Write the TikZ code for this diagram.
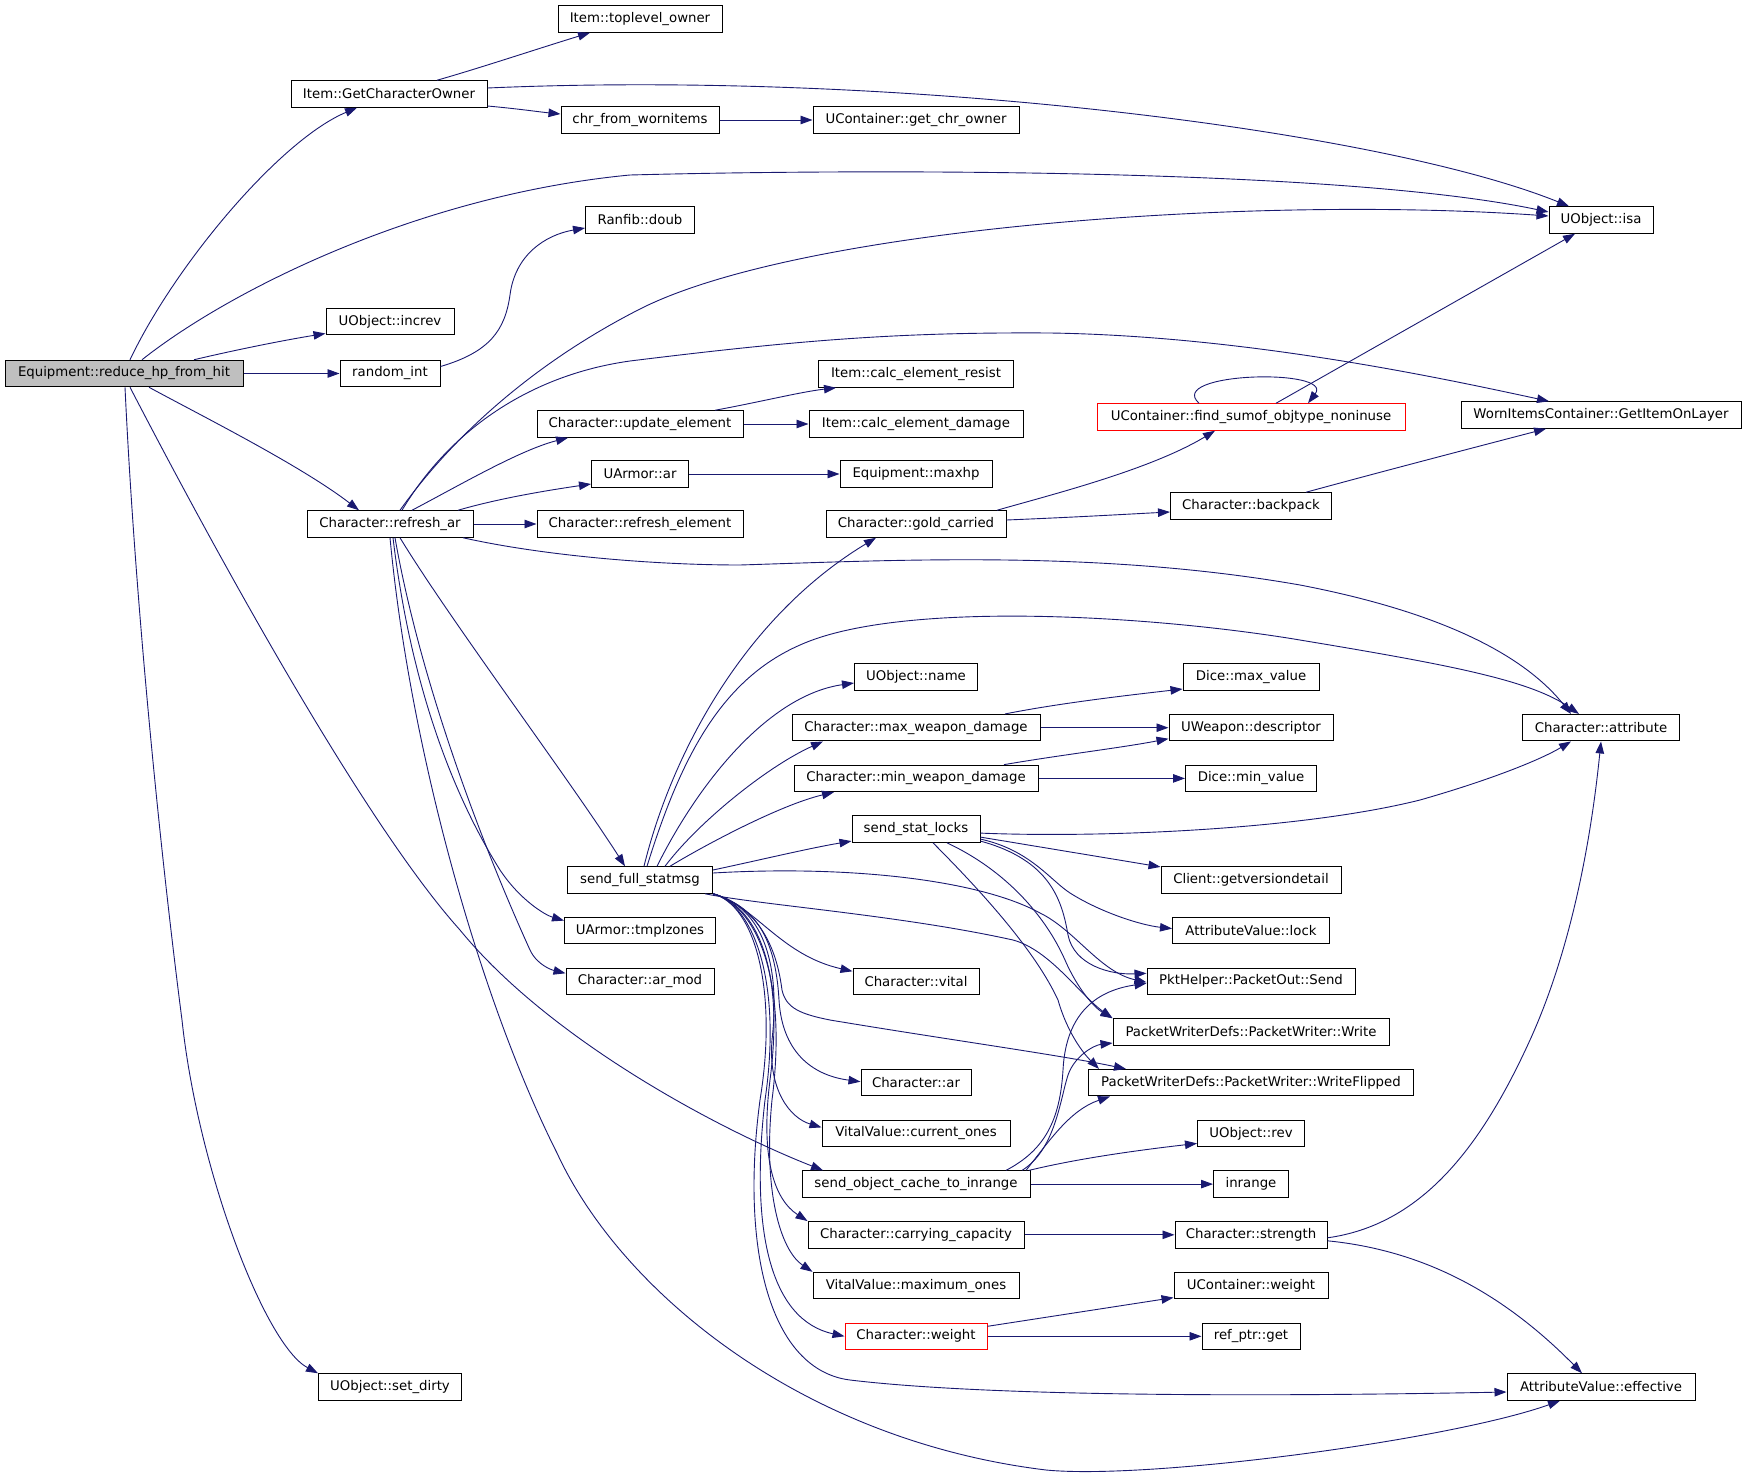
\documentclass[tikz,border=0pt]{standalone}
\usepackage{fontspec}
\setmainfont{DejaVu Sans}
\usetikzlibrary{arrows.meta}
\definecolor{callblue}{HTML}{191970}
\definecolor{rootgray}{HTML}{BFBFBF}
\tikzset{
  fn/.style={draw=black, line width=1pt, fill=white, inner sep=0pt, minimum height=26.5pt,
    font=\fontsize{13.3}{16}\selectfont},
  fnroot/.style={fn, fill=rootgray},
  fnred/.style={fn, draw=red},
  call/.style={draw=callblue, line width=0.9pt, -{Triangle[length=12pt,width=8.5pt]}}
}
\begin{document}
\begin{tikzpicture}[x=1pt,y=-1pt]
	\useasboundingbox (0,0) rectangle (1747,1479);
	% nodi
	\node[fnroot, minimum width=238pt] (root) at (124,373.5) {Equipment::reduce\_hp\_from\_hit};
	\node[fn, minimum width=196pt] (gco) at (389,94) {Item::GetCharacterOwner};
	\node[fn, minimum width=128pt] (increv) at (390,321.5) {UObject::increv};
	\node[fn, minimum width=100pt] (rint) at (390,373.5) {random\_int};
	\node[fn, minimum width=166pt] (rar) at (390,524) {Character::refresh\_ar};
	\node[fn, minimum width=143pt] (dirty) at (390,1387) {UObject::set\_dirty};
	\node[fn, minimum width=164pt] (toplevel) at (640,19) {Item::toplevel\_owner};
	\node[fn, minimum width=158pt] (chr) at (640,120) {chr\_from\_wornitems};
	\node[fn, minimum width=109pt] (doub) at (640,220) {Ranfib::doub};
	\node[fn, minimum width=206pt] (upd) at (640,424) {Character::update\_element};
	\node[fn, minimum width=97pt] (uar) at (640,474) {UArmor::ar};
	\node[fn, minimum width=206pt] (relem) at (640,524) {Character::refresh\_element};
	\node[fn, minimum width=145pt] (sfs) at (640,880) {send\_full\_statmsg};
	\node[fn, minimum width=151pt] (tmpl) at (640,930.6) {UArmor::tmplzones};
	\node[fn, minimum width=148pt] (armod) at (640,981.3) {Character::ar\_mod};
	\node[fn, minimum width=206pt] (gcowner) at (916,120) {UContainer::get\_chr\_owner};
	\node[fn, minimum width=195pt] (resist) at (916,374) {Item::calc\_element\_resist};
	\node[fn, minimum width=214pt] (dmg) at (916,424) {Item::calc\_element\_damage};
	\node[fn, minimum width=152pt] (maxhp) at (916,474) {Equipment::maxhp};
	\node[fn, minimum width=180pt] (gold) at (916,524) {Character::gold\_carried};
	\node[fn, minimum width=123pt] (name) at (916,677) {UObject::name};
	\node[fn, minimum width=248pt] (maxwd) at (916,727.7) {Character::max\_weapon\_damage};
	\node[fn, minimum width=244pt] (minwd) at (916,778.4) {Character::min\_weapon\_damage};
	\node[fn, minimum width=128pt] (ssl) at (916,829.1) {send\_stat\_locks};
	\node[fn, minimum width=126pt] (vital) at (916,981.3) {Character::vital};
	\node[fn, minimum width=110pt] (car) at (916,1082.7) {Character::ar};
	\node[fn, minimum width=188pt] (curr) at (916,1133.4) {VitalValue::current\_ones};
	\node[fn, minimum width=228pt] (soc) at (916,1184.1) {send\_object\_cache\_to\_inrange};
	\node[fn, minimum width=216pt] (carry) at (916,1234.8) {Character::carrying\_capacity};
	\node[fn, minimum width=206pt] (maxo) at (916,1285.6) {VitalValue::maximum\_ones};
	\node[fnred, minimum width=142pt] (cweight) at (916,1336.3) {Character::weight};
	\node[fnred, minimum width=308pt] (fsum) at (1251,417) {UContainer::find\_sumof\_objtype\_noninuse};
	\node[fn, minimum width=161pt] (backpack) at (1251,506) {Character::backpack};
	\node[fn, minimum width=136pt] (maxv) at (1251,677) {Dice::max\_value};
	\node[fn, minimum width=164pt] (desc) at (1251,727.7) {UWeapon::descriptor};
	\node[fn, minimum width=131pt] (minv) at (1251,778.4) {Dice::min\_value};
	\node[fn, minimum width=180pt] (client) at (1251,879.9) {Client::getversiondetail};
	\node[fn, minimum width=157pt] (lock) at (1251,930.6) {AttributeValue::lock};
	\node[fn, minimum width=208pt] (send) at (1251,981.3) {PktHelper::PacketOut::Send};
	\node[fn, minimum width=276pt] (write) at (1251,1032) {PacketWriterDefs::PacketWriter::Write};
	\node[fn, minimum width=325pt] (wflip) at (1251,1082.7) {PacketWriterDefs::PacketWriter::WriteFlipped};
	\node[fn, minimum width=107pt] (rev) at (1251,1133.4) {UObject::rev};
	\node[fn, minimum width=75pt] (inrange) at (1251,1184.1) {inrange};
	\node[fn, minimum width=152pt] (str) at (1251,1234.8) {Character::strength};
	\node[fn, minimum width=154pt] (uweight) at (1251,1285.6) {UContainer::weight};
	\node[fn, minimum width=98pt] (get) at (1251,1336.3) {ref\_ptr::get};
	\node[fn, minimum width=104pt] (isa) at (1601,220) {UObject::isa};
	\node[fn, minimum width=280pt] (layer) at (1601,415) {WornItemsContainer::GetItemOnLayer};
	\node[fn, minimum width=157pt] (attr) at (1601,727.7) {Character::attribute};
	\node[fn, minimum width=188pt] (eff) at (1601,1387) {AttributeValue::effective};
	% chiamate da reduce_hp_from_hit
	\draw[call] ([xshift=6]root.north) .. controls (175,265) and (280,140) .. ([xshift=-32]gco.south);
	\draw[call] ([xshift=18]root.north) .. controls (230,290) and (420,195) .. (630,175) .. controls (900,168) and (1350,170) .. ([yshift=8]isa.west);
	\draw[call] ([xshift=70]root.north) .. controls (235,350) and (285,340) .. ([yshift=-12]increv.west);
	\draw[call] (root.east) -- (rint.west);
	\draw[call] ([xshift=25]root.south) .. controls (200,415) and (300,465) .. ([xshift=-31]rar.north);
	\draw[call] ([xshift=6]root.south) .. controls (230,580) and (370,830) .. (460,930) .. controls (550,1040) and (720,1130) .. ([xshift=-93]soc.north);
	\draw[call] ([xshift=1]root.south) .. controls (135,600) and (160,850) .. (182,1020) .. controls (198,1170) and (265,1345) .. (dirty.north west);
	% GetCharacterOwner
	\draw[call] ([xshift=48]gco.north) .. controls (480,68) and (540,48) .. ([xshift=-50]toplevel.south);
	\draw[call] ([yshift=-12]gco.east) .. controls (520,109) and (540,112) .. ([yshift=6]chr.west);
	\draw[call] ([yshift=6]gco.east) .. controls (900,70) and (1380,130) .. ([xshift=-32]isa.north);
	\draw[call] (chr.east) -- (gcowner.west);
	% random_int
	\draw[call] ([yshift=7]rint.east) .. controls (490,352) and (505,330) .. (510,295) .. controls (515,255) and (545,235) .. ([yshift=-8]doub.west);
	% refresh_ar
	\draw[call] ([xshift=10]rar.north) .. controls (450,440) and (530,365) .. (640,309) .. controls (800,228) and (1250,195) .. ([yshift=4]isa.west);
	\draw[call] ([xshift=12]rar.north) .. controls (450,430) and (530,375) .. (630,361) .. controls (800,340) and (900,332) .. (1050,333) .. controls (1250,336) and (1450,380) .. ([xshift=-52]layer.north);
	\draw[call] ([xshift=22]rar.north) .. controls (460,485) and (520,450) .. ([xshift=-72]upd.south);
	\draw[call] ([xshift=68]rar.north) .. controls (500,498) and (550,490) .. ([yshift=-10]uar.west);
	\draw[call] (rar.east) -- (relem.west);
	\draw[call] ([xshift=73]rar.south) .. controls (540,555) and (650,565) .. (740,565) .. controls (900,560) and (1100,550) .. (1300,585) .. controls (1430,610) and (1520,650) .. ([xshift=-30]attr.north);
	\draw[call] ([xshift=10]rar.south) .. controls (450,620) and (570,780) .. ([xshift=-15]sfs.north);
	\draw[call] ([xshift=3]rar.south) .. controls (410,680) and (450,790) .. (500,870) .. controls (520,900) and (545,915) .. ([yshift=10]tmpl.west);
	\draw[call] ([xshift=5]rar.south) .. controls (420,680) and (480,840) .. (530,950) .. controls (537,965) and (552,970) .. ([yshift=8]armod.west);
	\draw[call] (rar.south) .. controls (410,750) and (480,1000) .. (557,1153) .. controls (620,1290) and (800,1440) .. (1046,1470) .. controls (1150,1480) and (1450,1440) .. ([xshift=-41]eff.south);
	% update_element, UArmor::ar
	\draw[call] ([xshift=75]upd.north) .. controls (760,402) and (800,392) .. ([xshift=-80]resist.south);
	\draw[call] (upd.east) -- (dmg.west);
	\draw[call] (uar.east) -- (maxhp.west);
	% gold_carried
	\draw[call] ([xshift=81]gold.north) .. controls (1050,495) and (1150,470) .. ([xshift=-36]fsum.south);
	\draw[call] ([yshift=4]gold.east) .. controls (1080,517) and (1130,514) .. ([yshift=-6]backpack.west);
	\draw[call] ([xshift=-52]fsum.north) .. controls (1165,372) and (1335,368) .. ([xshift=57]fsum.north);
	\draw[call] ([xshift=25]fsum.north) -- ([xshift=-26]isa.south);
	\draw[call] ([xshift=55]backpack.north) .. controls (1380,472) and (1480,446) .. ([xshift=-55]layer.south);
	% send_full_statmsg
	\draw[call] ([xshift=4]sfs.north) .. controls (670,760) and (740,620) .. ([xshift=-40]gold.south);
	\draw[call] ([xshift=7]sfs.north) .. controls (680,760) and (720,680) .. (800,645) .. controls (900,600) and (1150,615) .. (1300,640) .. controls (1450,665) and (1530,680) .. ([xshift=-22]attr.north);
	\draw[call] ([xshift=17]sfs.north) .. controls (700,780) and (770,695) .. ([yshift=-6]name.west);
	\draw[call] ([xshift=25]sfs.north) .. controls (700,820) and (770,765) .. ([xshift=-93]maxwd.south);
	\draw[call] ([xshift=30]sfs.north) .. controls (705,845) and (780,805) .. ([xshift=-82]minwd.south);
	\draw[call] ([yshift=10]sfs.east) .. controls (760,860) and (810,848) .. ([yshift=-12]ssl.west);
	\draw[call] ([yshift=7]sfs.east) .. controls (850,865) and (980,880) .. (1040,913) .. controls (1075,930) and (1100,972) .. ([yshift=-1]send.west);
	\draw[call] ([xshift=-8]sfs.south east) .. controls (760,905) and (900,915) .. (1013,940) .. controls (1050,950) and (1080,995) .. (write.north west);
	\draw[call] (sfs.south east) .. controls (750,905) and (775,935) .. (782,990) .. controls (786,1008) and (800,1014) .. (830,1020) .. controls (950,1040) and (1060,1055) .. ([xshift=38]wflip.north west);
	\draw[call] (sfs.south east) .. controls (755,905) and (780,955) .. ([yshift=10]vital.west);
	\draw[call] (sfs.south east) .. controls (750,905) and (775,930) .. (779,1000) .. controls (782,1050) and (810,1075) .. ([yshift=1]car.west);
	\draw[call] (sfs.south east) .. controls (755,905) and (782,950) .. (772,1040) .. controls (768,1090) and (790,1118) .. ([yshift=6]curr.west);
	\draw[call] (sfs.south east) .. controls (755,905) and (785,965) .. (770,1080) .. controls (760,1160) and (775,1200) .. (carry.north west);
	\draw[call] (sfs.south east) .. controls (755,905) and (788,975) .. (772,1100) .. controls (763,1190) and (780,1250) .. (maxo.north west);
	\draw[call] (sfs.south east) .. controls (755,905) and (782,985) .. (765,1100) .. controls (750,1230) and (770,1320) .. (cweight.west);
	\draw[call] (sfs.south east) .. controls (755,905) and (778,990) .. (760,1100) .. controls (740,1250) and (770,1370) .. (850,1380) .. controls (1000,1398) and (1300,1396) .. ([yshift=-5]eff.west);
	% max/min_weapon_damage
	\draw[call] ([xshift=89]maxwd.north) .. controls (1060,703) and (1130,695) .. ([yshift=-12]maxv.west);
	\draw[call] (maxwd.east) -- (desc.west);
	\draw[call] ([xshift=88]minwd.north) .. controls (1060,755) and (1120,748) .. ([yshift=-11]desc.west);
	\draw[call] (minwd.east) -- (minv.west);
	% send_stat_locks
	\draw[call] ([yshift=-4]ssl.east) .. controls (1100,838) and (1300,830) .. (1420,800) .. controls (1490,780) and (1540,760) .. ([xshift=-30]attr.south);
	\draw[call] ([yshift=-8]ssl.east) -- ([yshift=13]client.west);
	\draw[call] ([yshift=-10]ssl.east) .. controls (1030,850) and (1050,880) .. (1070,893) .. controls (1100,912) and (1140,925) .. ([yshift=2]lock.west);
	\draw[call] ([yshift=-12]ssl.east) .. controls (1050,860) and (1062,900) .. (1068,935) .. controls (1074,965) and (1110,975) .. ([yshift=8]send.west);
	\draw[call] ([xshift=31]ssl.south) .. controls (1005,870) and (1045,915) .. (1065,960) .. controls (1078,990) and (1095,1008) .. (write.north west);
	\draw[call] ([xshift=17]ssl.south) .. controls (980,890) and (1035,950) .. (1058,1000) .. controls (1068,1035) and (1085,1055) .. ([xshift=11]wflip.north west);
	% send_object_cache_to_inrange
	\draw[call] ([xshift=90]soc.north) .. controls (1045,1150) and (1060,1120) .. (1063,1070) .. controls (1066,1010) and (1100,990) .. ([yshift=-2]send.west);
	\draw[call] ([xshift=106]soc.north) .. controls (1055,1150) and (1060,1100) .. (1068,1075) .. controls (1075,1055) and (1095,1045) .. ([yshift=-11]write.west);
	\draw[call] ([xshift=110]soc.north) .. controls (1050,1140) and (1070,1110) .. ([xshift=22]wflip.south west);
	\draw[call] ([xshift=113]soc.north) .. controls (1080,1158) and (1140,1150) .. ([yshift=-10]rev.west);
	\draw[call] (soc.east) -- (inrange.west);
	% carrying_capacity, strength, weight
	\draw[call] (carry.east) -- (str.west);
	\draw[call] ([yshift=-3]str.east) .. controls (1420,1225) and (1480,1150) .. (1530,1040) .. controls (1580,930) and (1595,800) .. (attr.south);
	\draw[call] ([yshift=-6]str.east) .. controls (1420,1250) and (1500,1290) .. ([xshift=-19]eff.north);
	\draw[call] ([yshift=10]cweight.east) -- ([yshift=-12]uweight.west);
	\draw[call] (cweight.east) -- (get.west);
\end{tikzpicture}
\end{document}
